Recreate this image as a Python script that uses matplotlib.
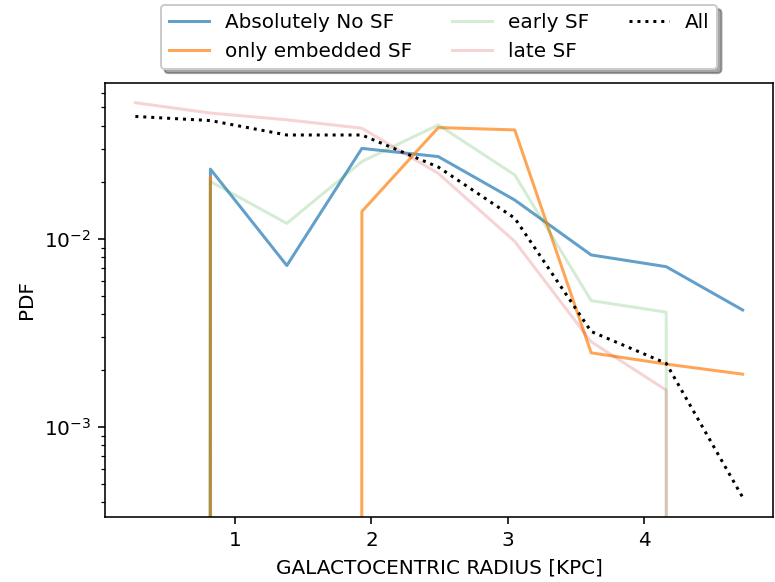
import matplotlib
matplotlib.use("Agg")
import matplotlib.pyplot as plt

# Bin centres (galactocentric radius, kpc)
radius = [0.27, 0.82, 1.38, 1.93, 2.49, 3.05, 3.61, 4.16, 4.72]

# PDF values per population (0 = empty bin)
no_sf = [0, 0.0235, 0.00722, 0.0303, 0.0274, 0.0161, 0.00822, 0.00712, 0.00419]
embedded_sf = [0, 0.0214, 0, 0.0140, 0.0391, 0.0380, 0.00248, 0.00216, 0.00191]
early_sf = [0, 0.0202, 0.0121, 0.0258, 0.0404, 0.0219, 0.00470, 0.00408, 0]
late_sf = [0.053, 0.0467, 0.0430, 0.0388, 0.0223, 0.0097, 0.00284, 0.00157, 0]
all_sf = [0.0448, 0.0426, 0.0357, 0.0357, 0.0241, 0.0129, 0.00322, 0.00218, 0.000423]

labels = ["Absolutely No SF", "only embedded SF", "early SF", "late SF", "All"]

DPI = 144
fig = plt.figure(figsize=(775 / DPI, 582 / DPI), dpi=DPI)
ax = fig.add_axes([105 / 775, 65 / 582, 668 / 775, 434 / 582])

ax.plot(radius, no_sf, color="tab:blue", alpha=0.7, label=labels[0])
ax.plot(radius, embedded_sf, color="tab:orange", alpha=0.7, label=labels[1])
ax.plot(radius, early_sf, color="tab:green", alpha=0.2, label=labels[2])
ax.plot(radius, late_sf, color="tab:red", alpha=0.2, label=labels[3])
ax.plot(radius, all_sf, color="k", linestyle=":", label=labels[4])

ax.set_yscale("log")
ax.set_xlabel("GALACTOCENTRIC RADIUS [KPC]")
ax.set_ylabel("PDF")

ax.legend(loc="lower center", bbox_to_anchor=(0.5, 1.032), ncol=3,
          shadow=True, borderaxespad=0)

fig.savefig("out.png", dpi=DPI)
